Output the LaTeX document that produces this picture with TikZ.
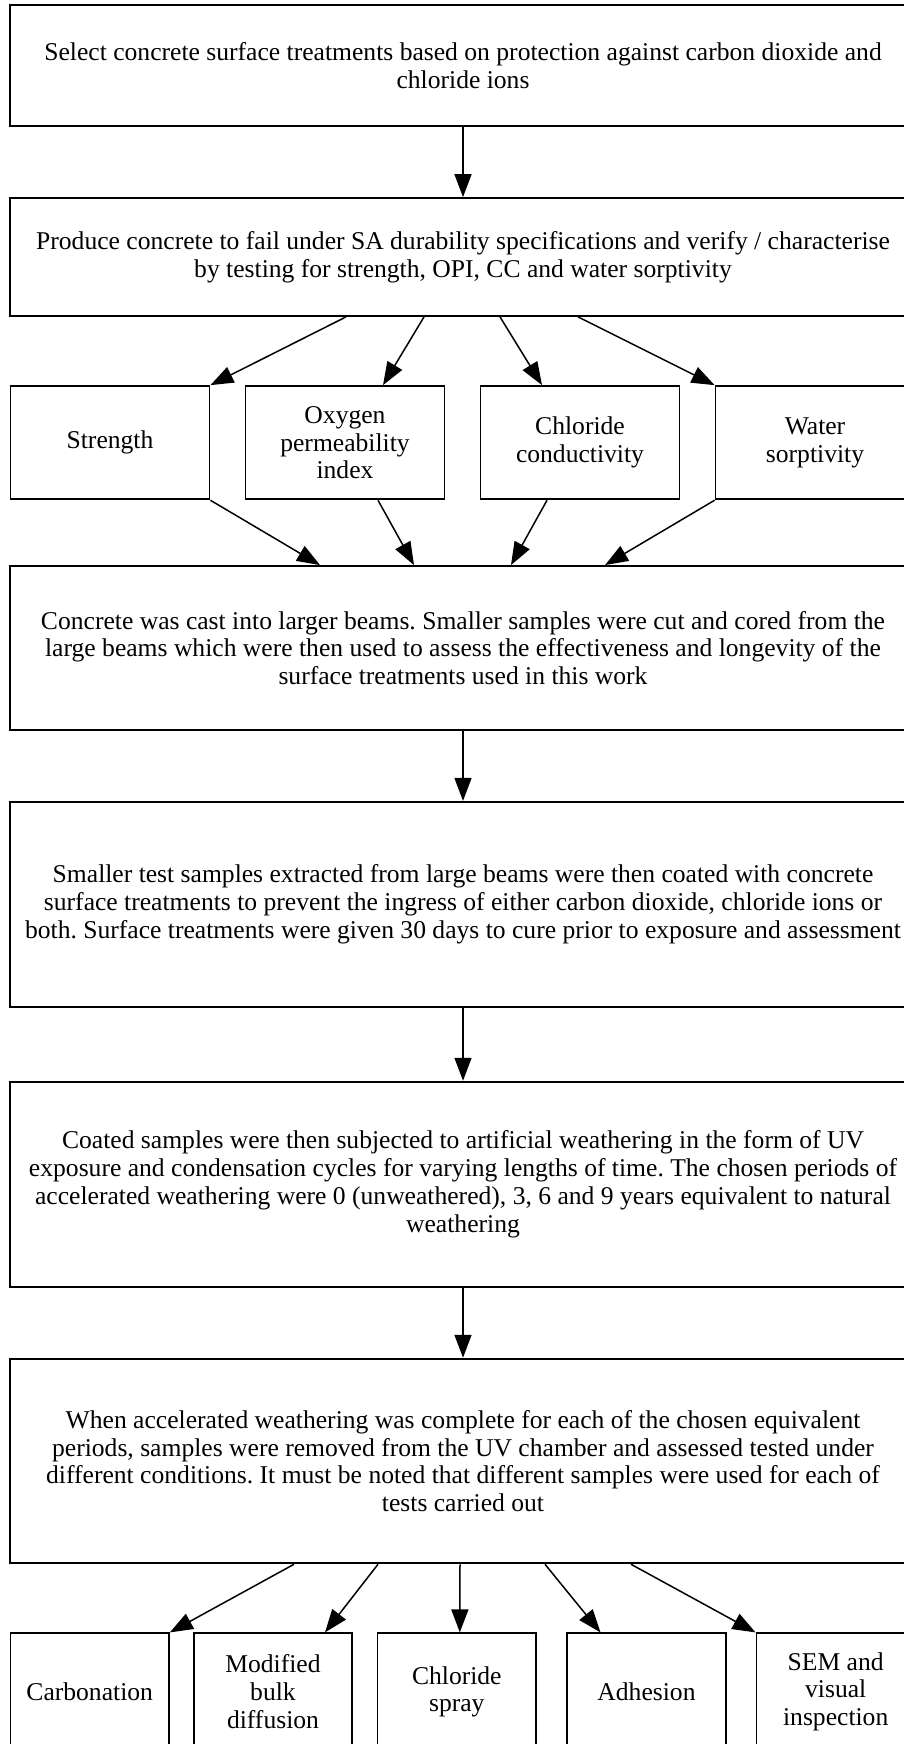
\documentclass[tikz,border=0pt]{standalone}
\usepackage{fontspec}
\setmainfont{Liberation Serif}
\usetikzlibrary{arrows.meta, calc, positioning}
\frenchspacing

\begin{document}
\begin{tikzpicture}[x=1pt, y=-1pt,
  box/.style={draw, line width=1.8pt, align=center, inner sep=0pt, font=\fontsize{25.6}{27.8}\selectfont},
  wide/.style={box, minimum width=906},
  small/.style={box, minimum width=199, minimum height=113.3},
  tiny/.style={box, minimum width=158.5, minimum height=117},
  arr/.style={-{Triangle[length=23pt,width=17pt]}, line width=1.5pt}]
\clip (0,0) rectangle (904,1744);
% main column
\node[wide, minimum height=120.7] (select) at (463,65.4) {Select concrete surface treatments based on protection against carbon dioxide and\\ chloride ions};
\node[wide, minimum height=118] (produce) at (463,257) {Produce concrete to fail under SA durability specifications and verify / characterise\\ by testing for strength, OPI, CC and water sorptivity};
\node[wide, minimum height=164] (cast) at (463,648) {Concrete was cast into larger beams. Smaller samples were cut and cored from the\\ large beams which were then used to assess the effectiveness and longevity of the\\ surface treatments used in this work};
\node[wide, minimum height=205.2] (coat) at (463,904.4) {Smaller test samples extracted from large beams were then coated with concrete\\ surface treatments to prevent the ingress of either carbon dioxide, chloride ions or\\ both. Surface treatments were given 30 days to cure prior to exposure and assessment};
\node[wide, minimum height=205.3] (weather) at (463,1184.3) {Coated samples were then subjected to artificial weathering in the form of UV\\ exposure and condensation cycles for varying lengths of time. The chosen periods of\\ accelerated weathering were 0 (unweathered), 3, 6 and 9 years equivalent to natural\\ weathering};
\node[wide, minimum height=204.7] (tests) at (463,1461) {When accelerated weathering was complete for each of the chosen equivalent\\ periods, samples were removed from the UV chamber and assessed tested under\\ different conditions. It must be noted that different samples were used for each of\\ tests carried out};

% characterisation tests
\node[small] (strength) at (110,442.7) {Strength};
\node[small] (opi) at (345,442.7) {Oxygen\\ permeability\\ index};
\node[small] (cc) at (580,442.7) {Chloride\\ conductivity};
\node[small] (sorp) at (815,442.7) {Water\\ sorptivity};

% assessment tests
\node[tiny] (carb) at (89.7,1691.8) {Carbonation};
\node[tiny] (diff) at (273,1691.8) {Modified\\ bulk\\ diffusion};
\node[tiny] (spray) at (456.8,1691.8) {Chloride\\ spray};
\node[tiny] (adh) at (646.5,1691.8) {Adhesion};
\node[tiny] (sem) at (835.7,1691.8) {SEM and\\ visual\\ inspection};

\draw[arr] (select.south) -- (produce.north);
\draw[arr] (cast.south) -- (coat.north);
\draw[arr] (coat.south) -- (weather.north);
\draw[arr] (weather.south) -- (tests.north);

\draw[arr] ([xshift=-117pt]produce.south) -- (strength.north east);
\draw[arr] ([xshift=-39pt]produce.south) -- ([xshift=38pt]opi.north);
\draw[arr] ([xshift=37pt]produce.south) -- ([xshift=-38pt]cc.north);
\draw[arr] ([xshift=115pt]produce.south) -- (sorp.north west);

\draw[arr] (strength.south east) -- ([xshift=-143pt]cast.north);
\draw[arr] ([xshift=33pt]opi.south) -- ([xshift=-49pt]cast.north);
\draw[arr] ([xshift=-33pt]cc.south) -- ([xshift=48pt]cast.north);
\draw[arr] (sorp.south west) -- ([xshift=142pt]cast.north);

\draw[arr] ([xshift=-169pt]tests.south) -- (carb.north east);
\draw[arr] ([xshift=-85pt]tests.south) -- ([xshift=52pt]diff.north);
\draw[arr] ([xshift=-3pt]tests.south) -- ([xshift=3pt]spray.north);
\draw[arr] ([xshift=82pt]tests.south) -- ([xshift=-46pt]adh.north);
\draw[arr] ([xshift=168pt]tests.south) -- (sem.north west);
\end{tikzpicture}
\end{document}
